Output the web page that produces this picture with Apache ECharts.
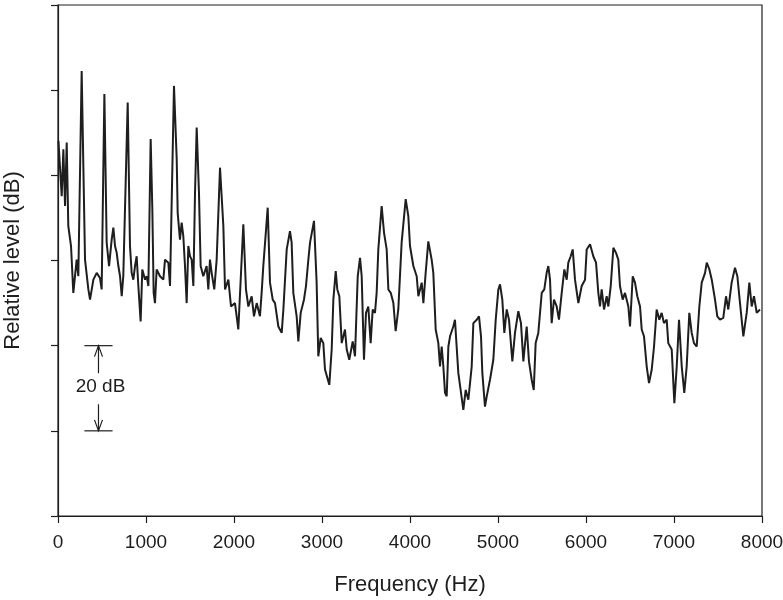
<!DOCTYPE html>
<html>
<head>
<meta charset="utf-8">
<script src="https://cdn.jsdelivr.net/npm/echarts@6/dist/echarts.min.js"></script>
<style>
  html, body { margin: 0; padding: 0; background: #fff; }
  #main { width: 783px; height: 600px; }
</style>
</head>
<body>
<div id="main"></div>
<script>
// spectrum: frequency (Hz) and relative level (dB)
var freqHz = [5,23,42,61,80,99,117,148,174,193,212,231,269,288,307,345,364,402,440,477,496,527,553,580,610,629,648,667,686,705,724,742,792,818,837,856,875,894,913,939,958,989,1008,1027,1053,1072,1087,1102,1121,1159,1197,1216,1254,1273,1318,1349,1360,1386,1405,1424,1443,1462,1481,1500,1519,1538,1557,1576,1602,1621,1651,1689,1708,1727,1746,1776,1803,1841,1879,1898,1936,1966,
  2011,2049,2106,2136,2163,2201,2227,2258,2295,2314,2333,2383,2409,2440,2466,2504,2542,2561,2599,2636,2655,2674,2712,2731,2758,2795,2818,2845,2864,2909,2939,2958,2985,3015,3034,3083,3110,3129,3156,3174,3197,3224,3261,3281,3310,3349,3375,3406,3432,3451,3477,3500,3526,3553,3576,3602,3621,3640,3678,3705,3735,3754,3781,3811,3837,3867,3905,3951,
  3981,4000,4038,4076,4095,4133,4152,4178,4208,4246,4265,4292,4322,4341,4360,4379,4398,4417,4436,4455,4492,4511,4530,4549,4580,4606,4633,4663,4701,4720,4758,4784,4807,4822,4852,4872,4909,4947,4974,5004,5023,5049,5072,5099,5125,5163,5193,5231,5261,5288,5326,5352,5383,5406,5428,5458,5497,5526,5553,5572,5591,5610,5636,5667,5693,5724,5754,5781,5799,5826,5849,5875,5913,5951,
  5989,6008,6046,6083,6114,6140,6159,6178,6205,6235,6254,6281,6311,6341,6367,6386,6417,6443,6481,6500,6531,6557,6583,6614,6633,6659,6690,6716,6747,6773,6803,6833,6860,6886,6917,6935,6974,7004,7031,7057,7088,7117,7144,7174,7201,7227,7258,7288,7315,7353,7372,7402,7429,7466,7492,7523,7560,7591,7617,7655,7693,7720,7750,7788,7826,7856,7883,7909,7940,7977];
var levelDb = [88.1,88.1,75.1,86.1,72.8,87.7,68.1,63.4,52.4,52.0,60.2,56.3,104.5,82.2,60.2,53.2,50.8,55.5,57.1,55.9,53.2,99.1,64.2,58.7,64.9,67.7,63.4,61.8,58.7,56.3,51.6,56.3,97.1,63.4,57.1,55.5,58.7,61.0,54.0,45.7,57.9,55.5,56.3,54.0,88.5,72.0,52.4,50.0,57.9,56.3,55.5,60.2,59.5,54.0,101.0,83.8,71.2,64.9,68.9,65.7,58.7,50.0,63.4,61.0,60.2,54.0,75.9,91.2,75.9,58.7,56.3,58.7,53.2,60.2,57.1,53.2,60.2,81.8,68.1,53.2,55.5,49.2,
  50.0,43.8,68.5,53.2,49.2,51.6,46.9,50.0,46.9,52.4,58.7,72.4,54.8,50.8,50.0,44.5,43.0,48.5,62.6,66.9,64.2,52.4,46.9,41.0,47.7,50.8,54.0,60.2,64.2,69.3,54.8,37.5,41.8,40.6,34.4,30.8,39.1,50.8,57.5,53.2,51.6,40.6,43.8,39.1,36.7,41.0,37.5,56.3,60.6,56.3,36.7,47.7,49.2,40.6,48.5,47.7,52.4,62.6,72.8,66.5,62.6,53.2,52.4,50.0,43.4,48.5,64.2,74.4,
  70.4,63.4,58.7,56.3,51.6,54.8,50.0,57.1,64.5,60.2,57.1,43.8,40.6,35.1,39.8,35.1,28.9,28.1,39.8,42.2,44.5,46.1,39.8,33.6,28.9,24.9,29.6,27.3,35.1,45.3,46.1,46.9,42.2,33.6,25.7,28.1,32.0,36.7,46.1,53.2,54.4,50.8,43.0,48.5,46.1,36.3,43.0,48.1,45.3,36.3,44.5,36.3,32.0,29.6,40.6,43.0,52.4,53.2,57.1,58.7,55.5,45.3,50.8,49.2,46.1,52.4,57.9,55.5,59.5,61.0,62.6,55.5,50.0,54.0,
  55.5,62.6,63.8,61.0,59.5,52.4,49.2,53.2,48.5,51.6,49.2,54.0,63.0,61.8,60.2,54.0,50.8,52.4,49.2,44.5,56.3,54.8,51.6,49.2,43.8,42.2,35.1,31.2,34.4,39.8,48.5,46.1,47.7,45.3,46.1,40.6,39.1,26.5,35.1,46.1,35.1,28.9,35.1,47.7,43.0,40.6,39.8,49.2,54.8,57.1,59.5,57.9,55.5,50.8,46.9,46.1,46.5,51.6,48.5,54.8,58.3,56.3,50.0,42.2,47.7,54.8,49.2,51.6,47.7,48.5];

// 20 dB scale bar drawn inside the plot
var barDb = [20, 40];
var barHz = [300, 620];
var barArrowHz = 460;
var barLabel = '20 dB';

var ink = '#1e1e1e';
var chart = echarts.init(document.getElementById('main'));

var lineData = freqHz.map(function (f, i) { return [f, levelDb[i]]; });

function renderBar(params, api) {
  var lo = api.coord([barHz[0], barDb[0]]);
  var loR = api.coord([barHz[1], barDb[0]]);
  var hi = api.coord([barHz[0], barDb[1]]);
  var hiR = api.coord([barHz[1], barDb[1]]);
  var top = api.coord([barArrowHz, barDb[1]]);
  var bot = api.coord([barArrowHz, barDb[0]]);
  var mid = api.coord([barArrowHz, (barDb[0] + barDb[1]) / 2]);
  var st = { stroke: ink, lineWidth: 1.2, fill: null };
  var ax = top[0];
  return {
    type: 'group',
    children: [
      { type: 'line', shape: { x1: hi[0], y1: hi[1], x2: hiR[0], y2: hiR[1] }, style: st },
      { type: 'line', shape: { x1: lo[0], y1: lo[1], x2: loR[0], y2: loR[1] }, style: st },
      { type: 'line', shape: { x1: ax, y1: top[1], x2: ax, y2: mid[1] - 15 }, style: st },
      { type: 'polyline', shape: { points: [[ax - 4, top[1] + 11], [ax, top[1]], [ax + 4, top[1] + 11]] }, style: st },
      { type: 'line', shape: { x1: ax, y1: bot[1], x2: ax, y2: mid[1] + 16 }, style: st },
      { type: 'polyline', shape: { points: [[ax - 4, bot[1] - 11], [ax, bot[1]], [ax + 4, bot[1] - 11]] }, style: st },
      { type: 'text', x: ax + 2, y: mid[1] - 1, style: { text: barLabel, fill: ink, font: '19px "Liberation Sans", Arial, sans-serif', align: 'center', verticalAlign: 'middle' } }
    ]
  };
}

var option = {
  animation: false,
  backgroundColor: '#fff',
  grid: { left: 58, right: 21, top: 5, bottom: 84, show: true, borderColor: ink, borderWidth: 1.2, backgroundColor: '#fff', outerBoundsMode: 'none', containLabel: false },
  xAxis: {
    type: 'value',
    min: 0, max: 8000, interval: 1000,
    name: 'Frequency (Hz)',
    nameLocation: 'middle',
    nameGap: 58,
    nameTextStyle: { fontSize: 22, color: ink, fontFamily: 'Liberation Sans' },
    axisLine: { show: true, lineStyle: { color: ink, width: 1.2 } },
    axisTick: { show: true, inside: false, length: 7, lineStyle: { color: ink, width: 1.2 } },
    axisLabel: { fontSize: 19, color: ink, fontFamily: 'Liberation Sans', margin: 17, formatter: function (v) { return String(v); } },
    splitLine: { show: false }
  },
  yAxis: {
    type: 'value',
    min: 0, max: 120, interval: 20,
    name: 'Relative level (dB)',
    nameLocation: 'middle',
    nameGap: 34,
    nameTextStyle: { fontSize: 22, color: ink, fontFamily: 'Liberation Sans' },
    axisLine: { show: true, lineStyle: { color: ink, width: 1.2 } },
    axisTick: { show: true, inside: false, length: 7, lineStyle: { color: ink, width: 1.2 } },
    axisLabel: { show: false },
    splitLine: { show: false }
  },
  series: [
    {
      type: 'line',
      data: lineData,
      showSymbol: false,
      lineStyle: { color: ink, width: 2 },
      z: 3
    },
    {
      type: 'custom',
      data: [[barArrowHz, barDb[0]]],
      renderItem: renderBar,
      silent: true,
      z: 4
    }
  ]
};

chart.setOption(option);
</script>
</body>
</html>
